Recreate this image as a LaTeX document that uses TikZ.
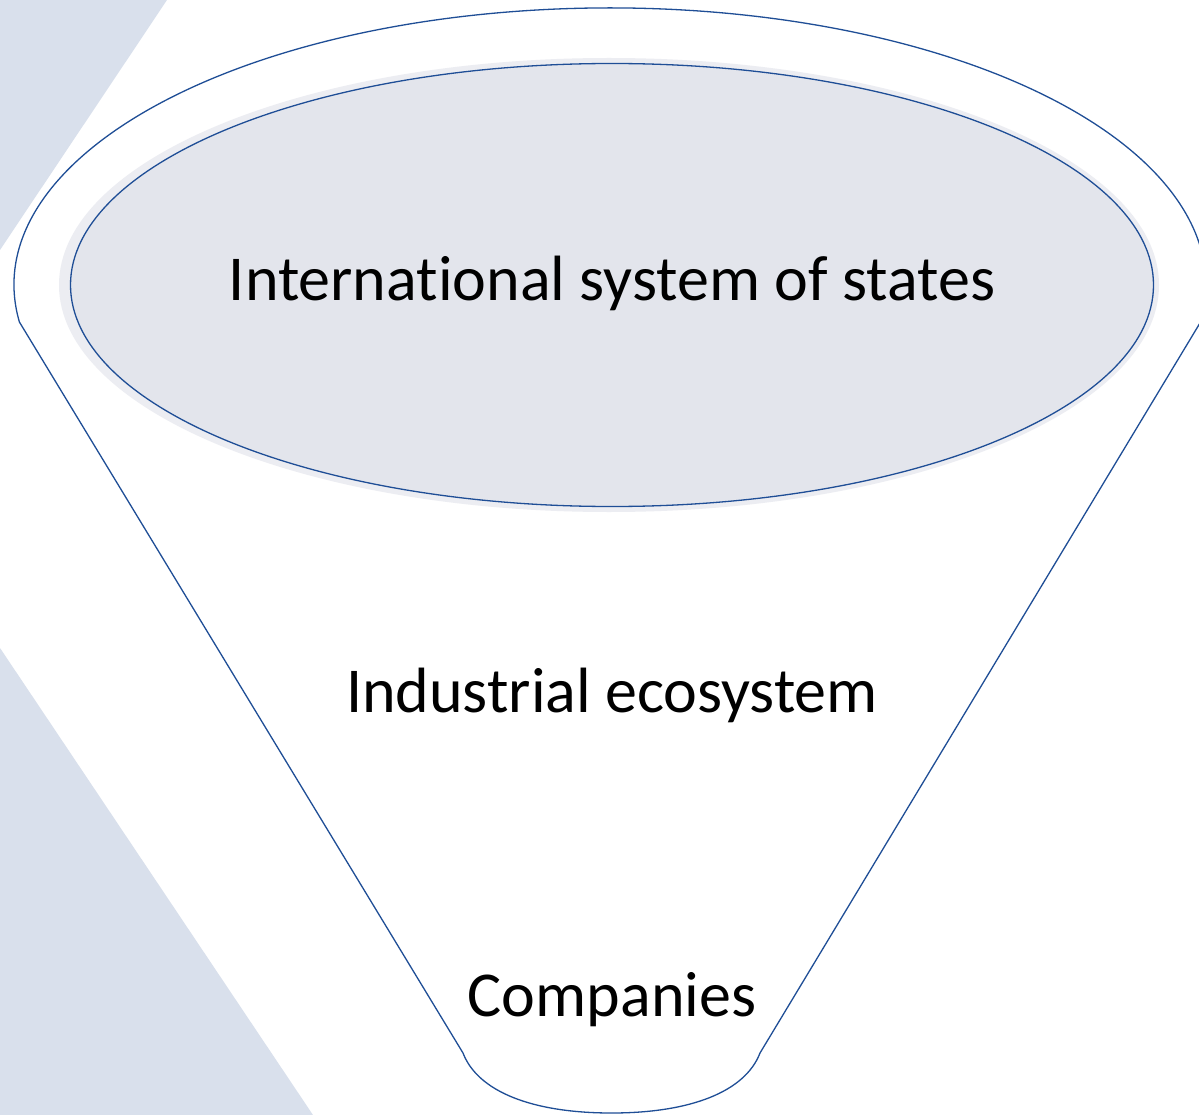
\documentclass[tikz,border=0pt]{standalone}
\usepackage{fontspec}
\setmainfont{Carlito}[Ligatures=NoCommon]
\usetikzlibrary{shapes.geometric}
\definecolor{bgblue}{HTML}{D9E0EC}
\definecolor{edge}{HTML}{1F4E96}
\definecolor{innerfill}{HTML}{E3E5EC}
\definecolor{halo}{HTML}{ECEDF2}
\begin{document}
\begin{tikzpicture}[x=1pt,y=-1pt,
  outline/.style={draw=edge,line width=1.3pt},
  label/.style={font=\fontsize{64}{76}\selectfont,text=black,inner sep=0pt}]
\useasboundingbox (0,0) rectangle (1199,1115);
\fill[white] (0,0) rectangle (1199,1115);
% background shapes
\fill[bgblue] (0,0) -- (167,0) -- (0,250) -- cycle;
\fill[bgblue] (0,648) -- (313,1115) -- (0,1115) -- cycle;
% funnel outline
\draw[outline,fill=white] (19.4,322) arc[start angle=172.3,end angle=367.7,x radius=596,y radius=277]
  -- (760,1053) .. controls (745,1092) and (690,1113) .. (611.5,1113)
  .. controls (533,1113) and (478,1092) .. (463,1053) -- cycle;
% inner ellipse with halo
\fill[halo] (609,285) ellipse[x radius=550,y radius=227];
\node[outline,fill=innerfill,ellipse,minimum width=1083pt,minimum height=443pt,inner sep=0pt] (top) at (612,285) {};
\node[label] (ist) at (612,283) {International system of states};
\node[label] (ind) at (612,695) {Industrial ecosystem};
\node[label] (com) at (612,1000) {Companies};
\end{tikzpicture}
\end{document}
